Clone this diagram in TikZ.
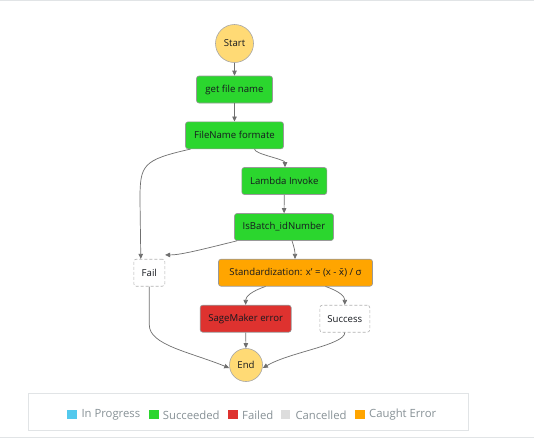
\documentclass[tikz,border=0pt]{standalone}
\usepackage{fontspec}
\setmainfont{Open Sans}
\newfontfamily\dejavu{DejaVu Sans}
\usetikzlibrary{arrows.meta}
\definecolor{succ}{HTML}{2BD62E}
\definecolor{fail}{HTML}{DE322F}
\definecolor{caught}{HTML}{FFA500}
\definecolor{inprog}{HTML}{53C9ED}
\definecolor{canc}{HTML}{DDDDDD}
\definecolor{term}{HTML}{FFDA75}
\definecolor{edgec}{HTML}{6F6F6F}
\definecolor{txt}{HTML}{16191F}
\definecolor{legtxt}{HTML}{879196}
\definecolor{frame}{HTML}{E1E4E6}
\tikzset{
  state/.style={draw=black!40, line width=0.6pt, rounded corners=2.5pt, minimum height=27pt, inner sep=0pt, font=\fontsize{9.6}{11}\selectfont, text=txt},
  okbox/.style={state, fill=succ},
  errbox/.style={state, fill=fail},
  catchbox/.style={state, fill=caught},
  endbox/.style={state, draw=black!30, dashed, dash pattern=on 3pt off 2pt, fill=white},
  termnode/.style={circle, draw=black!35, line width=0.6pt, fill=term, inner sep=0pt, font=\fontsize{9.6}{11}\selectfont, text=txt},
  conn/.style={draw=edgec, line width=0.7pt, -{Triangle[length=5pt,width=4.5pt]}},
  legsq/.style={minimum size=9.5pt, inner sep=0pt},
  legtext/.style={anchor=west, inner sep=0pt, text=legtxt, font=\fontsize{11.3}{13}\selectfont}
}
\begin{document}
\begin{tikzpicture}[x=1pt,y=-1pt]
\useasboundingbox (0,0) rectangle (534,440);
\fill[white] (0,0) rectangle (534,440);
\draw[frame, line width=1.2pt] (0,0.6) -- (534,0.6);
\draw[frame, line width=1.2pt] (0,437.5) -- (534,437.5);

\node[termnode, minimum size=38pt] (start) at (234.5,43.5) {Start};
\node[okbox, minimum width=76pt] (getf) at (234.5,89.5) {get file name};
\node[okbox, minimum width=98pt] (fnf) at (234.5,135.3) {FileName formate};
\node[okbox, minimum width=85pt] (lam) at (284.3,181) {Lambda Invoke};
\node[okbox, minimum width=99pt] (isb) at (284,227) {IsBatch\_idNumber};
\node[endbox, minimum width=31pt] (failn) at (149.3,272.7) {Fail};
\node[catchbox, minimum width=154pt] (std) at (295.5,272.7) {Standardization: x' = (x - {\dejavu\fontsize{9}{11}\selectfont x̄}) / σ};
\node[errbox, minimum width=91pt] (sage) at (245.7,318.7) {SageMaker error};
\node[endbox, minimum width=50pt] (succn) at (344.8,318.7) {Success};
\node[termnode, minimum size=33pt] (endn) at (246,365) {End};

\draw[conn] (start) -- (getf);
\draw[conn] (getf) -- (fnf);
\draw[conn] ([xshift=20pt]fnf.south) .. controls +(0,5) and +(0,-8) .. ([xshift=0.7pt]lam.north);
\draw[conn] ([xshift=-44pt]fnf.south) .. controls (142,160) and (140,165) .. (140,200) -- ([xshift=-8.5pt]failn.north);
\draw[conn] (lam) -- (isb);
\draw[conn] ([xshift=-47pt]isb.south) .. controls (200,250) and (180,255) .. ([yshift=4pt]failn.north east);
\draw[conn] ([xshift=8pt]isb.south) .. controls +(2,6) and +(0,-8) .. ([xshift=-0.5pt]std.north);
\draw[conn] ([xshift=-30pt]std.south) .. controls +(-15,5) and +(0,-8) .. (sage.north);
\draw[conn] ([xshift=30pt]std.south) .. controls +(15,5) and +(0,-8) .. (succn.north);
\draw[conn] (sage) -- (endn);
\draw[conn] (failn.south) -- (149.3,325) .. controls (149.3,345) and (190,352) .. ([yshift=-3pt]endn.west);
\draw[conn] (succn.south) .. controls (344.8,345) and (290,352) .. ([yshift=-3pt]endn.east);

\draw[frame, line width=1pt] (28,393) rectangle (468,430);
\node[legsq, fill=inprog] (l1) at (71.8,414.5) {};
\node[legtext] (t1) at (81.3,415) {In Progress};
\node[legsq, fill=succ] (l2) at (154,414.5) {};
\node[legtext] (t2) at (162.7,415) {Succeeded};
\node[legsq, fill=fail] (l3) at (233.2,414.5) {};
\node[legtext] (t3) at (242,415) {Failed};
\node[legsq, fill=canc] (l4) at (285.4,414.5) {};
\node[legtext] (t4) at (295.3,415) {Cancelled};
\node[legsq, fill=caught] (l5) at (360,414.5) {};
\node[legtext] (t5) at (369,415) {Caught Error};
\end{tikzpicture}
\end{document}
